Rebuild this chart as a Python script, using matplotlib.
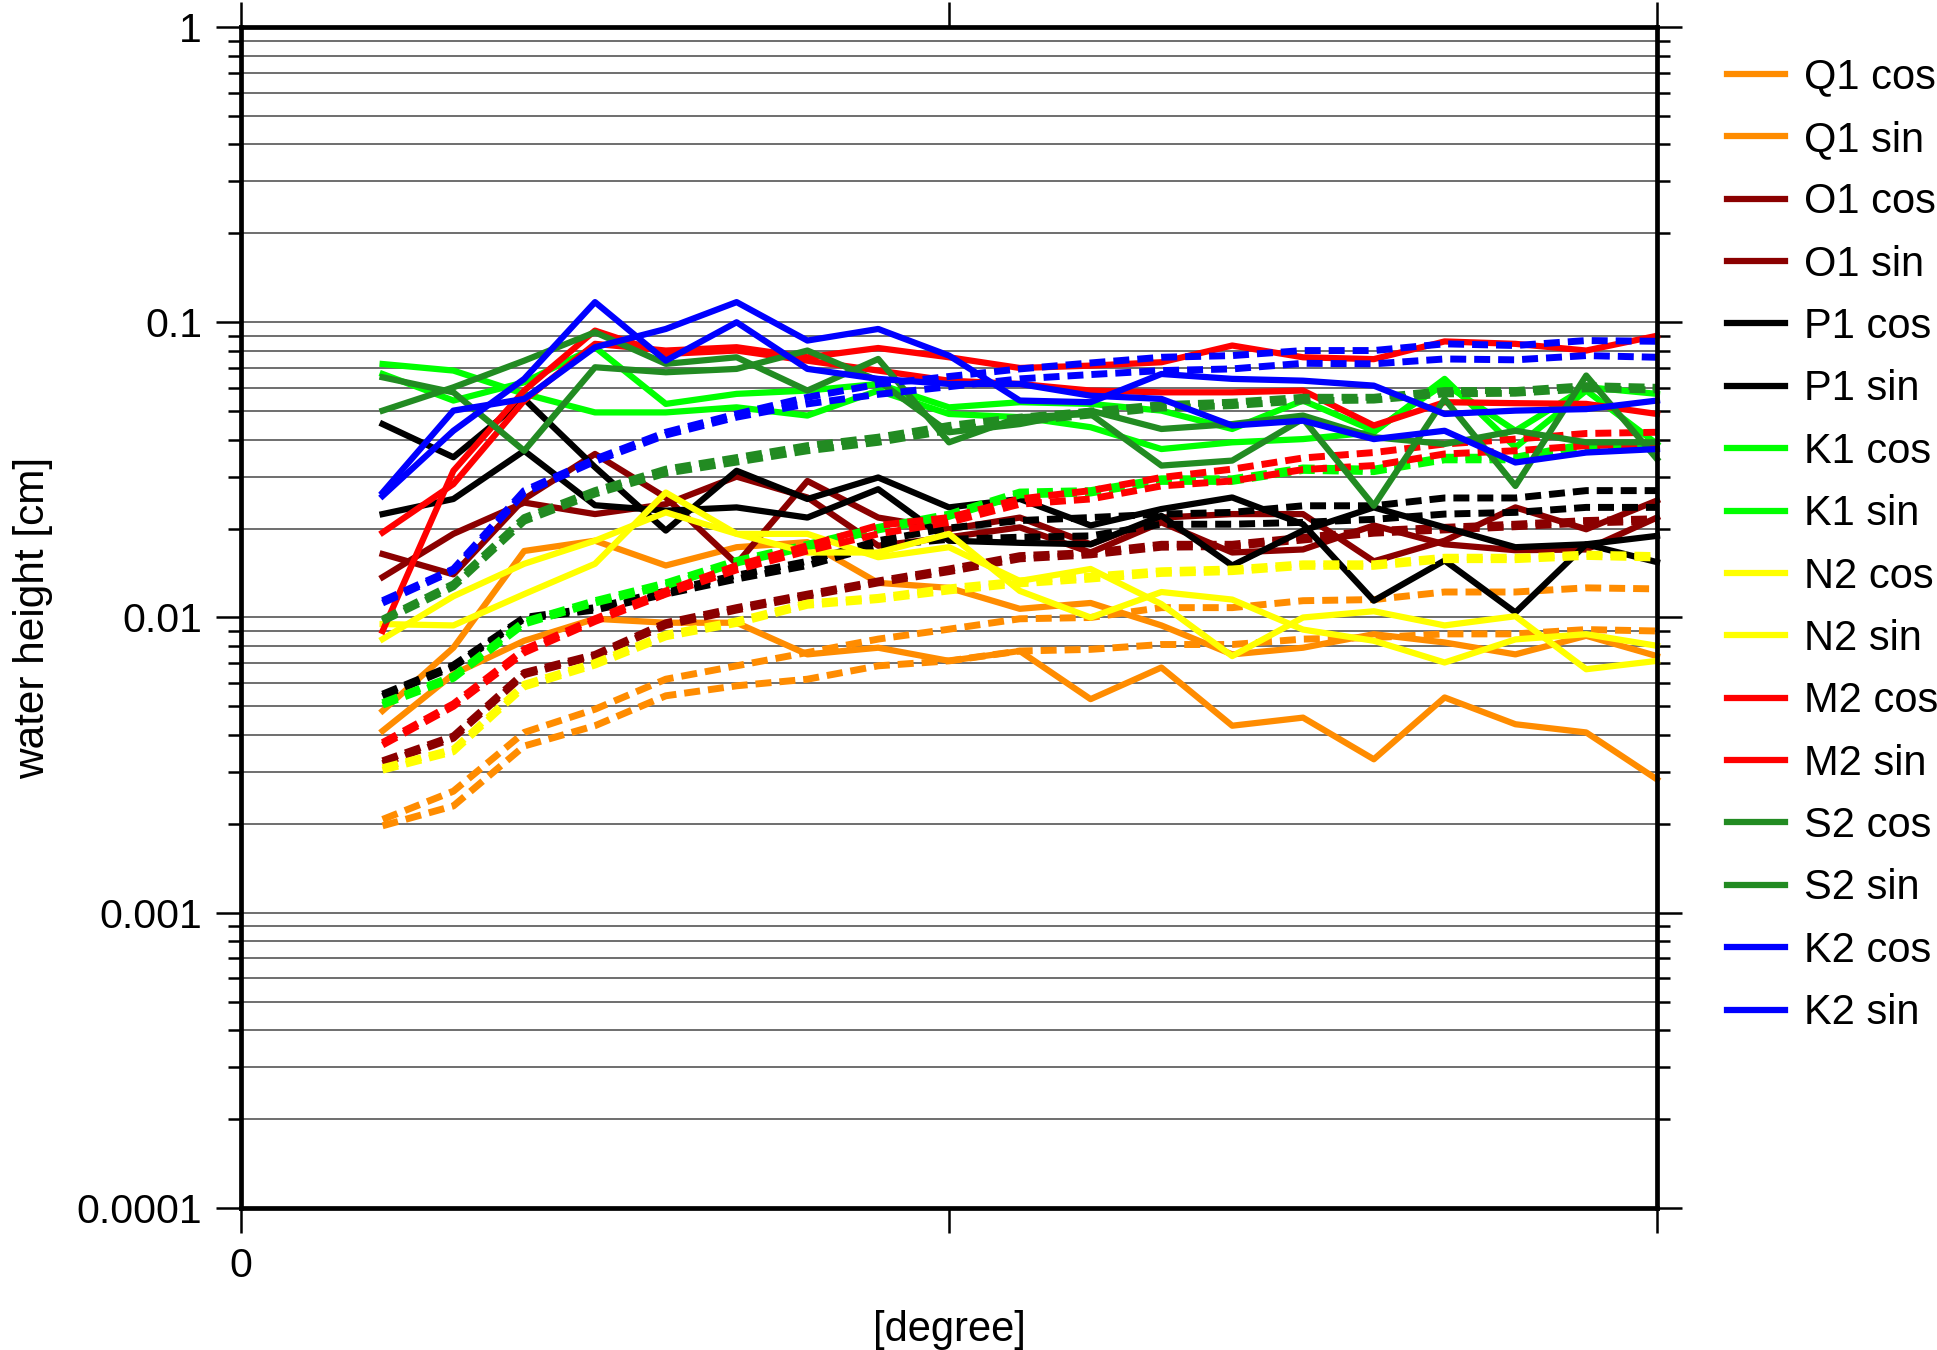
import matplotlib
matplotlib.use('Agg')
import matplotlib.pyplot as plt
from matplotlib.ticker import FixedLocator, LogLocator, NullFormatter

plt.rcParams['font.family'] = ['Liberation Sans', 'DejaVu Sans']

# x positions of the samples
deg = list(range(2, 21))

# solid lines: cos / sin amplitude per tide
q1_cos = [0.00483, 0.0079, 0.0168, 0.0182, 0.015, 0.0173, 0.018, 0.0131, 0.0126, 0.0107, 0.0112, 0.0094, 0.0075, 0.0079, 0.00878, 0.00823, 0.0075, 0.00867, 0.0074]
q1_sin = [0.00413, 0.00643, 0.00834, 0.0099, 0.0096, 0.0096, 0.0075, 0.0079, 0.00713, 0.0077, 0.00529, 0.00677, 0.0043, 0.00458, 0.00331, 0.00536, 0.00435, 0.00408, 0.00283]
o1_cos = [0.0164, 0.014, 0.0252, 0.0358, 0.0255, 0.0152, 0.029, 0.0218, 0.0199, 0.0218, 0.0177, 0.0218, 0.0224, 0.0224, 0.0155, 0.0182, 0.0236, 0.0199, 0.0249]
o1_sin = [0.0137, 0.0192, 0.0245, 0.0224, 0.0242, 0.03, 0.0255, 0.0175, 0.0187, 0.0202, 0.0166, 0.021, 0.0166, 0.017, 0.0205, 0.0177, 0.0169, 0.017, 0.0218]
p1_cos = [0.0452, 0.0349, 0.055, 0.0323, 0.0197, 0.0314, 0.0252, 0.0298, 0.0236, 0.0252, 0.0205, 0.0233, 0.0255, 0.0207, 0.0114, 0.0156, 0.0104, 0.0177, 0.0154]
p1_sin = [0.0224, 0.0252, 0.0367, 0.024, 0.023, 0.0236, 0.0218, 0.0272, 0.0182, 0.0179, 0.0177, 0.0221, 0.015, 0.0197, 0.0236, 0.0202, 0.0173, 0.0177, 0.0189]
k1_cos = [0.0722, 0.0686, 0.0572, 0.0495, 0.0495, 0.0515, 0.0483, 0.0587, 0.0489, 0.0477, 0.0441, 0.0372, 0.0392, 0.0402, 0.0424, 0.0643, 0.0377, 0.0587, 0.0387]
k1_sin = [0.0668, 0.0543, 0.0626, 0.0823, 0.0529, 0.0572, 0.0587, 0.0618, 0.0515, 0.0536, 0.0529, 0.0502, 0.0435, 0.0543, 0.0429, 0.0618, 0.0429, 0.0603, 0.0572]
n2_cos = [0.0095, 0.0094, 0.012, 0.0152, 0.0265, 0.0192, 0.0192, 0.016, 0.0173, 0.0133, 0.0146, 0.0111, 0.0074, 0.01, 0.0105, 0.0094, 0.0101, 0.00668, 0.00713]
n2_sin = [0.00845, 0.0118, 0.0152, 0.0182, 0.0227, 0.0192, 0.0166, 0.0166, 0.0192, 0.0123, 0.01, 0.0122, 0.0115, 0.0091, 0.00834, 0.00704, 0.00843, 0.00878, 0.00802]
m2_cos = [0.0194, 0.0283, 0.0543, 0.0845, 0.0802, 0.0823, 0.0761, 0.0818, 0.0761, 0.07, 0.0713, 0.0732, 0.0834, 0.0761, 0.075, 0.0861, 0.0845, 0.0802, 0.09]
m2_sin = [0.009, 0.0314, 0.0587, 0.0937, 0.0781, 0.0802, 0.0741, 0.0686, 0.0634, 0.0618, 0.0587, 0.0579, 0.0579, 0.0587, 0.0447, 0.0536, 0.0532, 0.0529, 0.0489]
s2_cos = [0.0502, 0.0602, 0.0741, 0.0925, 0.0723, 0.0761, 0.0587, 0.0751, 0.0392, 0.0477, 0.0489, 0.0327, 0.034, 0.0471, 0.0239, 0.055, 0.0279, 0.066, 0.0344]
s2_sin = [0.0651, 0.0579, 0.0367, 0.0704, 0.0677, 0.0695, 0.0802, 0.0634, 0.0424, 0.0452, 0.0502, 0.0435, 0.0452, 0.0483, 0.0408, 0.0387, 0.0429, 0.0392, 0.0392]
k2_cos = [0.0258, 0.0429, 0.0643, 0.117, 0.0741, 0.1, 0.0695, 0.0643, 0.0618, 0.0618, 0.0564, 0.055, 0.0447, 0.0464, 0.0402, 0.0429, 0.0335, 0.0362, 0.0372]
k2_sin = [0.0265, 0.0502, 0.055, 0.0823, 0.0949, 0.117, 0.0867, 0.0949, 0.0771, 0.0543, 0.0536, 0.0668, 0.0643, 0.0634, 0.061, 0.0489, 0.0502, 0.0508, 0.0543]

# dashed lines: error estimates (cos / sin)
q1_cos_err = [0.00207, 0.00258, 0.00408, 0.00489, 0.00618, 0.00686, 0.00761, 0.00845, 0.00913, 0.0099, 0.01, 0.0108, 0.0108, 0.0114, 0.0115, 0.0122, 0.0122, 0.0126, 0.0125]
q1_sin_err = [0.00197, 0.0023, 0.00367, 0.0043, 0.00543, 0.00587, 0.00618, 0.00686, 0.00713, 0.0077, 0.0078, 0.0081, 0.0081, 0.00845, 0.00855, 0.0088, 0.0088, 0.0091, 0.009]
o1_cos_err = [0.00327, 0.00397, 0.00651, 0.0075, 0.0096, 0.0108, 0.012, 0.0133, 0.0146, 0.0162, 0.0166, 0.0177, 0.0177, 0.0187, 0.0197, 0.0202, 0.0207, 0.0213, 0.0216]
o1_sin_err = [0.0032, 0.0039, 0.0064, 0.0074, 0.0094, 0.0106, 0.0118, 0.0131, 0.0143, 0.0158, 0.0163, 0.0173, 0.0174, 0.0183, 0.0193, 0.0198, 0.0203, 0.0209, 0.0212]
p1_cos_err = [0.0055, 0.0069, 0.01, 0.0108, 0.0123, 0.0139, 0.0155, 0.0182, 0.0201, 0.0213, 0.0218, 0.0224, 0.0227, 0.0239, 0.0239, 0.0254, 0.0254, 0.0269, 0.0269]
p1_sin_err = [0.0054, 0.0068, 0.0099, 0.0106, 0.012, 0.0135, 0.015, 0.0175, 0.0184, 0.0187, 0.0189, 0.0207, 0.0207, 0.021, 0.0215, 0.0224, 0.0227, 0.0236, 0.0236]
k1_cos_err = [0.00515, 0.00634, 0.0097, 0.0114, 0.0131, 0.0156, 0.0177, 0.0202, 0.0224, 0.0266, 0.0269, 0.0295, 0.0295, 0.0321, 0.0318, 0.0349, 0.0349, 0.0387, 0.0387]
k1_sin_err = [0.00505, 0.00622, 0.0095, 0.0112, 0.0128, 0.0153, 0.0173, 0.0198, 0.022, 0.026, 0.0264, 0.0289, 0.0289, 0.0315, 0.0312, 0.0342, 0.0342, 0.0379, 0.0379]
n2_cos_err = [0.0031, 0.00358, 0.00594, 0.00704, 0.00878, 0.00974, 0.0112, 0.0117, 0.0126, 0.0133, 0.0138, 0.0144, 0.0146, 0.0152, 0.0152, 0.016, 0.016, 0.0164, 0.0162]
n2_sin_err = [0.00304, 0.00351, 0.00582, 0.0069, 0.0086, 0.00955, 0.011, 0.0115, 0.0123, 0.013, 0.0135, 0.0141, 0.0143, 0.0149, 0.0149, 0.0157, 0.0157, 0.0161, 0.0159]
m2_cos_err = [0.00377, 0.0051, 0.0078, 0.0099, 0.0123, 0.015, 0.0175, 0.0205, 0.0218, 0.0252, 0.0269, 0.0298, 0.0318, 0.0347, 0.0362, 0.0387, 0.0402, 0.042, 0.0424]
m2_sin_err = [0.0037, 0.005, 0.0076, 0.0097, 0.012, 0.0145, 0.0168, 0.0192, 0.021, 0.0242, 0.0252, 0.0279, 0.029, 0.0317, 0.0327, 0.0358, 0.0367, 0.0382, 0.0387]
s2_cos_err = [0.00987, 0.013, 0.0218, 0.0269, 0.0318, 0.0348, 0.0382, 0.0408, 0.0447, 0.0477, 0.05, 0.0526, 0.0536, 0.0557, 0.0557, 0.0587, 0.0587, 0.061, 0.0602]
s2_sin_err = [0.0097, 0.0127, 0.0212, 0.0262, 0.0308, 0.0336, 0.0367, 0.0392, 0.043, 0.046, 0.0485, 0.0512, 0.0522, 0.0542, 0.0545, 0.0572, 0.0575, 0.0595, 0.059]
k2_cos_err = [0.0114, 0.0146, 0.0269, 0.0344, 0.0424, 0.0489, 0.0557, 0.0617, 0.0655, 0.0695, 0.0728, 0.0761, 0.0771, 0.0802, 0.0802, 0.0845, 0.0834, 0.0867, 0.0862]
k2_sin_err = [0.0112, 0.0144, 0.0264, 0.0338, 0.0415, 0.0477, 0.0529, 0.057, 0.0605, 0.0643, 0.0665, 0.0686, 0.0695, 0.0726, 0.0723, 0.0751, 0.0746, 0.0771, 0.0761]

tides = ['Q1', 'O1', 'P1', 'K1', 'N2', 'M2', 'S2', 'K2']
colors = ['#ff8c00', '#8b0000', '#000000', '#00ff00', '#ffff00', '#ff0000', '#228b22', '#0000ff']
solid = [(q1_cos, q1_sin), (o1_cos, o1_sin), (p1_cos, p1_sin), (k1_cos, k1_sin),
         (n2_cos, n2_sin), (m2_cos, m2_sin), (s2_cos, s2_sin), (k2_cos, k2_sin)]
dashed = [(q1_cos_err, q1_sin_err), (o1_cos_err, o1_sin_err), (p1_cos_err, p1_sin_err), (k1_cos_err, k1_sin_err),
          (n2_cos_err, n2_sin_err), (m2_cos_err, m2_sin_err), (s2_cos_err, s2_sin_err), (k2_cos_err, k2_sin_err)]

fig = plt.figure(figsize=(19.37, 13.5), dpi=100)
ax = fig.add_axes([0.12442, 0.10519, 0.73103, 0.87481])

handles = []
for name, c, (yc, ys), (ec, es) in zip(tides, colors, solid, dashed):
    h1, = ax.plot(deg, yc, color=c, lw=4.5, label=name + ' cos', clip_on=False)
    h2, = ax.plot(deg, ys, color=c, lw=4.5, label=name + ' sin', clip_on=False)
    for e in (ec, es):
        ax.plot(deg, e, color=c, lw=5.0, dashes=(2.3, 1.15), dash_capstyle='butt', clip_on=False)
    handles += [h1, h2]

ax.set_yscale('log')
ax.set_ylim(0.0001, 1)
ax.set_xlim(0, 20)

ax.yaxis.set_major_locator(FixedLocator([0.0001, 0.001, 0.01, 0.1, 1]))
ax.set_yticklabels(['0.0001', '0.001', '0.01', '0.1', '1'])
ax.yaxis.set_minor_locator(LogLocator(base=10, subs=range(2, 10)))
ax.yaxis.set_minor_formatter(NullFormatter())
ax.set_xticks([0, 10, 20])
ax.set_xticklabels(['0', '', ''])

ax.grid(axis='y', which='both', color='#555555', lw=1.2)
ax.set_axisbelow(True)
for s in ax.spines.values():
    s.set_linewidth(3.4)

ax.tick_params(which='major', direction='out', length=18, width=1.8, labelsize=29.5, pad=10,
               left=True, right=True, top=True, bottom=True)
ax.tick_params(which='minor', direction='out', length=9.5, width=1.8, left=True, right=True)
ax.tick_params(axis='x', which='minor', bottom=False, top=False)

ax.set_xlabel('[degree]', fontsize=30, labelpad=18)
ax.set_ylabel('water height [cm]', fontsize=30.5)
ax.yaxis.set_label_coords(-0.133, 0.5)

ax.legend(handles=handles, loc='upper left', bbox_to_anchor=(0.8916, 0.9574),
          bbox_transform=fig.transFigure, frameon=False, fontsize=30,
          handlelength=1.40, handletextpad=0.45, labelspacing=0.537, borderpad=0, borderaxespad=0)

fig.savefig('out.png', dpi=100)
